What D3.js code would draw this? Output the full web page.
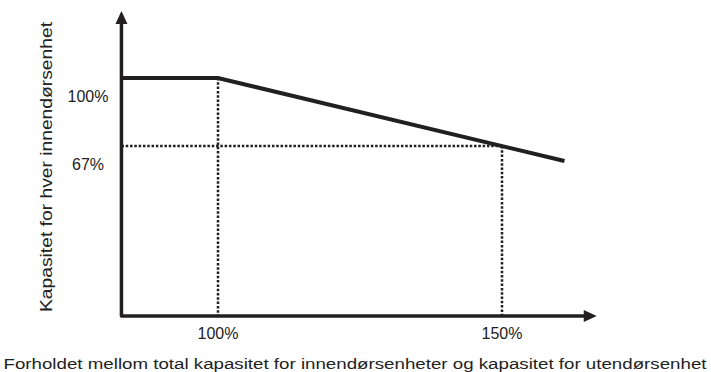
<!DOCTYPE html>
<html>
<head>
<meta charset="utf-8">
<script src="https://cdn.jsdelivr.net/npm/d3@7"></script>
<style>
	body { margin: 0; background: #fff; }
	text { font-family: Arial, "Liberation Sans", sans-serif; fill: #222; }
</style>
</head>
<body>
<svg id="chart" width="711" height="372"></svg>
<script>
// capacity curve (x = ratio %, y = capacity %)
var ratioValues = [83, 100, 161]
var capacityValues = [100, 100, 59.7]

// reference points drawn as dotted guides
var guideX = [100, 150]
var guideY = [100, 67]

var xTickLabels = ["100%", "150%"]
var yTickLabels = ["100%", "67%"]

// axis extents in data units
var xAxisRange = [83, 166.5]
var yAxisRange = [-15.5, 132.5]

var xTitle = "Forholdet mellom total kapasitet for innendørsenheter og kapasitet for utendørsenhet"
var yTitle = "Kapasitet for hver innendørsenhet"

var svg = d3.select("#chart")

var xScale = d3.scaleLinear().domain([100, 150]).range([218, 502])
var yScale = d3.scaleLinear().domain([67, 100]).range([146, 78])

var ink = "#231f20"
var x0 = xScale(xAxisRange[0]), y0 = yScale(yAxisRange[0])

// dotted guides
var g = svg.append("g")
	.attr("stroke", ink)
	.attr("stroke-width", 2.5)
	.attr("stroke-dasharray", "2.5,1.8")
	.attr("fill", "none")
// vertical at 100%
g.append("line")
	.attr("x1", xScale(guideX[0])).attr("x2", xScale(guideX[0]))
	.attr("y1", yScale(guideY[0])).attr("y2", y0)
// horizontal at 67%
g.append("line")
	.attr("x1", x0).attr("x2", xScale(guideX[1]))
	.attr("y1", yScale(guideY[1])).attr("y2", yScale(guideY[1]))
// vertical at 150%
g.append("line")
	.attr("x1", xScale(guideX[1])).attr("x2", xScale(guideX[1]))
	.attr("y1", yScale(guideY[1])).attr("y2", y0)

// capacity line
var line = d3.line()
	.x(function(d, i){ return xScale(ratioValues[i]) })
	.y(function(d, i){ return yScale(capacityValues[i]) })
svg.append("path")
	.datum(ratioValues)
	.attr("d", line)
	.attr("fill", "none")
	.attr("stroke", ink)
	.attr("stroke-width", 4)

// axes
var xEnd = xScale(xAxisRange[1]), yEnd = yScale(yAxisRange[1])
svg.append("path")
	.attr("d", "M" + x0 + "," + (yEnd + 10) + "L" + x0 + "," + y0 + "L" + (xEnd - 10) + "," + y0)
	.attr("fill", "none")
	.attr("stroke", ink)
	.attr("stroke-width", 3.5)
	.attr("stroke-linejoin", "round")
svg.append("path")
	.attr("d", "M" + x0 + "," + yEnd + "l-6,13l12,0z")
	.attr("fill", ink)
svg.append("path")
	.attr("d", "M" + (xEnd + 1) + "," + y0 + "l-13,-6l0,12z")
	.attr("fill", ink)

// tick labels
svg.selectAll(".xlab")
	.data(xTickLabels)
	.enter().append("text")
	.attr("x", function(d, i){ return xScale(guideX[i]) })
	.attr("y", 339)
	.attr("text-anchor", "middle")
	.attr("font-size", 16)
	.text(function(d){ return d })

svg.selectAll(".ylab")
	.data(yTickLabels)
	.enter().append("text")
	.attr("x", 88)
	.attr("y", function(d, i){ return yScale(guideY[i]) + 24 })
	.attr("text-anchor", "middle")
	.attr("font-size", 16)
	.text(function(d){ return d })

// titles (stretched a little wider than the font, as in the original)
svg.append("text")
	.attr("x", 355)
	.attr("y", 369)
	.attr("text-anchor", "middle")
	.attr("font-size", 15.5)
	.attr("textLength", 703)
	.attr("lengthAdjust", "spacingAndGlyphs")
	.text(xTitle)

svg.append("text")
	.attr("transform", "translate(52,167) rotate(-90)")
	.attr("text-anchor", "middle")
	.attr("font-size", 16)
	.attr("textLength", 290)
	.attr("lengthAdjust", "spacingAndGlyphs")
	.text(yTitle)
</script>
</body>
</html>
